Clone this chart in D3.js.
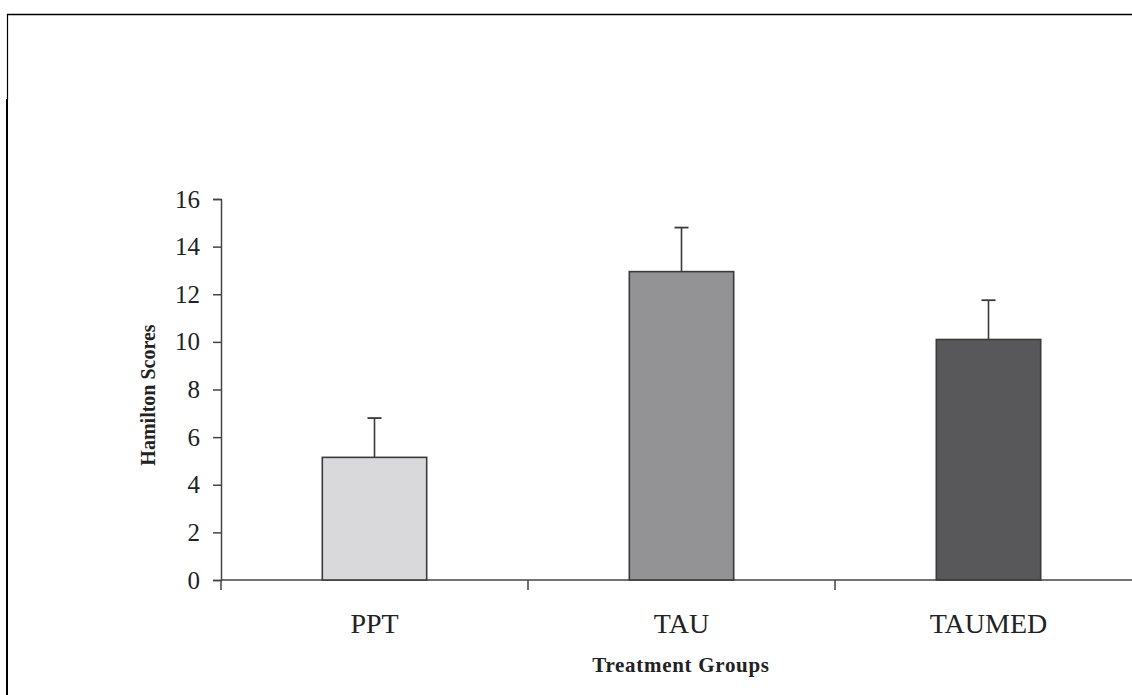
<!DOCTYPE html>
<html>
<head>
<meta charset="utf-8">
<script src="https://cdn.jsdelivr.net/npm/d3@7"></script>
<style>
  body { margin: 0; background: #fff; }
  svg { display: block; }
  text { font-family: "Liberation Serif", "Times New Roman", serif; fill: #222; }
</style>
</head>
<body>
<div id="chart"></div>
<script>
// Hamilton scores per treatment group, with upper error bars
const groups = ['PPT', 'TAU', 'TAUMED'];
const means = [5.15, 12.95, 10.1];
const errors = [1.65, 1.85, 1.65];
const barColors = ['#d9d9db', '#939396', '#58585b'];
const yTicks = [0, 2, 4, 6, 8, 10, 12, 14, 16];

const w = 1132;
const h = 695;

const svg = d3.select('#chart')
  .append('svg')
  .attr('width', w)
  .attr('height', h)

// outer frame
svg.append('line')
  .attr('x1', 7).attr('x2', w).attr('y1', 14.5).attr('y2', 14.5)
  .attr('stroke', '#000').attr('stroke-width', 1.5)
svg.append('line')
  .attr('x1', 7.5).attr('x2', 7.5).attr('y1', 14).attr('y2', 100)
  .attr('stroke', '#000').attr('stroke-width', 1.2)
svg.append('line')
  .attr('x1', 7).attr('x2', 7).attr('y1', 99).attr('y2', h)
  .attr('stroke', '#000').attr('stroke-width', 2)

// scales: three bands of ~307px starting at the y axis
const xScale = d3.scaleBand()
  .domain(groups)
  .range([221, 1142])
  .paddingInner(0.66)
  .paddingOuter(0.33)

const yScale = d3.scaleLinear()
  .domain([0, 16])
  .range([580, 199])

const axisColor = '#444';

// y axis
const yAxis = d3.axisLeft(yScale).tickValues(yTicks).tickSize(8).tickPadding(13);
const gy = svg.append('g')
  .attr('transform', 'translate(221,0)')
  .call(yAxis)
gy.select('.domain').attr('stroke', axisColor).attr('stroke-width', 1.5)
gy.selectAll('.tick line').attr('stroke', axisColor).attr('stroke-width', 1.5)
gy.selectAll('.tick text')
  .style('font-family', '"Liberation Serif", serif')
  .style('font-size', '25px')
  .attr('fill', '#222')

// x axis: line along the bottom with tick marks at band boundaries
const bandStep = xScale.step();
const boundaries = [0, 1, 2, 3].map(i => 221 + i * bandStep);
svg.append('line')
  .attr('x1', 221).attr('x2', w).attr('y1', yScale(0)).attr('y2', yScale(0))
  .attr('stroke', axisColor).attr('stroke-width', 1.5)
svg.selectAll('.xtick')
  .data(boundaries)
  .enter()
  .append('line')
  .attr('class', 'xtick')
  .attr('x1', d => d).attr('x2', d => d)
  .attr('y1', yScale(0)).attr('y2', yScale(0) + 10)
  .attr('stroke', axisColor).attr('stroke-width', 1.5)

// bars
svg.selectAll('.bar')
  .data(groups)
  .enter()
  .append('rect')
  .attr('class', 'bar')
  .attr('x', d => xScale(d))
  .attr('width', xScale.bandwidth())
  .attr('y', (d, i) => yScale(means[i]))
  .attr('height', (d, i) => yScale(0) - yScale(means[i]))
  .attr('fill', (d, i) => barColors[i])
  .attr('stroke', '#3a3a3a')
  .attr('stroke-width', 1.6)

// error bars (upper only)
const cx = d => xScale(d) + xScale.bandwidth() / 2;
svg.selectAll('.err')
  .data(groups)
  .enter()
  .append('line')
  .attr('class', 'err')
  .attr('x1', cx).attr('x2', cx)
  .attr('y1', (d, i) => yScale(means[i]))
  .attr('y2', (d, i) => yScale(means[i] + errors[i]))
  .attr('stroke', '#3a3a3a').attr('stroke-width', 1.6)
svg.selectAll('.cap')
  .data(groups)
  .enter()
  .append('line')
  .attr('class', 'cap')
  .attr('x1', d => cx(d) - 7).attr('x2', d => cx(d) + 7)
  .attr('y1', (d, i) => yScale(means[i] + errors[i]))
  .attr('y2', (d, i) => yScale(means[i] + errors[i]))
  .attr('stroke', '#3a3a3a').attr('stroke-width', 1.8)

// category labels
svg.selectAll('.cat')
  .data(groups)
  .enter()
  .append('text')
  .attr('class', 'cat')
  .attr('x', cx)
  .attr('y', 633)
  .attr('text-anchor', 'middle')
  .style('font-size', '28px')
  .text(d => d)

// axis titles
svg.append('text')
  .attr('x', 681)
  .attr('y', 672)
  .attr('text-anchor', 'middle')
  .style('font-size', '21px')
  .style('font-weight', 'bold')
  .style('letter-spacing', '0.7px')
  .text('Treatment Groups')

svg.append('text')
  .attr('transform', 'translate(155,395) rotate(-90)')
  .attr('text-anchor', 'middle')
  .style('font-size', '20px')
  .style('font-weight', 'bold')
  .text('Hamilton Scores')
</script>
</body>
</html>
